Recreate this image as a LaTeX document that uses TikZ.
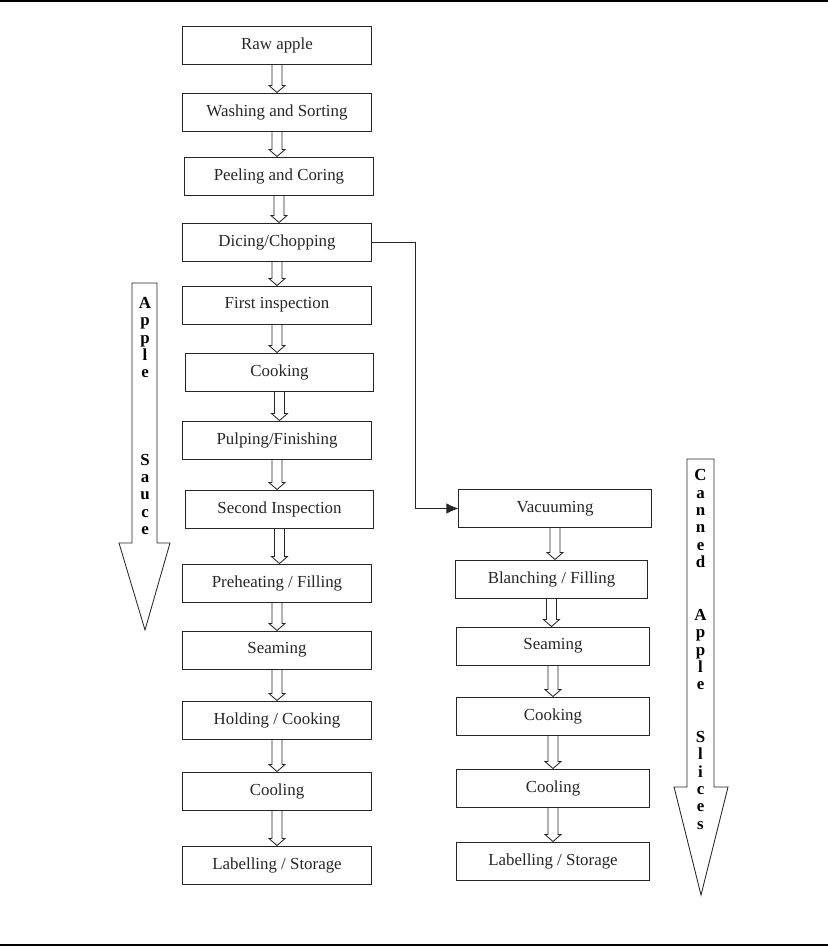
\documentclass[tikz,border=0pt]{standalone}
\usepackage{fontspec}
\setmainfont{Liberation Serif}
\usetikzlibrary{arrows.meta,calc}

% hollow block arrow from the bottom of one box to the top of the next
\newcommand{\hollowflow}[2]{%
  \coordinate (tip) at (#1.south |- #2.north);
  \draw[flowline] ($(#1.south)+(-5,0)$) -- ($(tip)+(-5,-7)$) -- ($(tip)+(-8,-7)$) -- (tip)
    -- ($(tip)+(8,-7)$) -- ($(tip)+(5,-7)$) -- ($(#1.south)+(5,0)$);}

\begin{document}
\begin{tikzpicture}[x=0.025cm,y=-0.025cm,>={Latex[length=3mm,width=2.6mm]},font=\fontsize{12}{14}\selectfont]
  \tikzset{procbox/.style={draw,black!85,line width=0.7pt,align=center,minimum width=4.7cm,minimum height=0.95cm},
    sidebox/.style={procbox,minimum width=4.8cm},
    flowline/.style={black!85,line width=0.6pt},
    bigarrow/.style={black!85,line width=0.6pt},
    sidelabel/.style={align=center,inner sep=0pt,font=\fontsize{12}{12.4}\selectfont\bfseries}}

  \useasboundingbox (0,0) rectangle (828,948);
  \draw[line width=1pt] (0,1) -- (828,1);
  \draw[line width=1pt] (0,945) -- (828,945);

  % apple sauce line
  \node[procbox] (raw)     at (277,45)    {Raw apple};
  \node[procbox] (wash)    at (277,112)   {Washing and Sorting};
  \node[procbox] (peel)    at (279,176)   {Peeling and Coring};
  \node[procbox] (dice)    at (277,242)   {Dicing/Chopping};
  \node[procbox] (inspa)   at (277,305)   {First inspection};
  \node[procbox] (cook)    at (279.5,372) {Cooking};
  \node[procbox] (pulp)    at (277,440)   {Pulping/Finishing};
  \node[procbox] (inspb)   at (279.5,509) {Second Inspection};
  \node[procbox] (preheat) at (277,583)   {Preheating / Filling};
  \node[procbox] (seam)    at (277,650)   {Seaming};
  \node[procbox] (hold)    at (277,720)   {Holding / Cooking};
  \node[procbox] (cool)    at (277,791)   {Cooling};
  \node[procbox] (label)   at (277,865)   {Labelling / Storage};

  % canned slices line
  \node[sidebox] (vac)    at (555,508.5) {Vacuuming};
  \node[sidebox] (blanch) at (551.5,579) {Blanching / Filling};
  \node[sidebox] (seamb)  at (553,646)   {Seaming};
  \node[sidebox] (cookb)  at (553,716)   {Cooking};
  \node[sidebox] (coolb)  at (553,788)   {Cooling};
  \node[sidebox] (labelb) at (553,861)   {Labelling / Storage};

  \foreach \a/\b in {raw/wash,wash/peel,peel/dice,dice/inspa,inspa/cook,cook/pulp,pulp/inspb,
    inspb/preheat,preheat/seam,seam/hold,hold/cool,cool/label,
    vac/blanch,blanch/seamb,seamb/cookb,cookb/coolb,coolb/labelb}
    {\hollowflow{\a}{\b}}

  \draw[->,flowline] (dice.east) -- ++(44,0) |- (vac.west);

  % side arrows
  \draw[bigarrow] (132,283) -- (157,283) -- (157,543) -- (170,543) -- (145,630) -- (119,543) -- (132,543) -- cycle;
  \draw[bigarrow] (687,459) -- (714,459) -- (714,787) -- (728,787) -- (701,895) -- (674,787) -- (687,787) -- cycle;
  \node[sidelabel] (sauce) at (145,416) {A\\p\\p\\l\\e\\~\\~\\~\\~\\S\\a\\u\\c\\e};
  \node[sidelabel] (slices) at (700.5,649.5) {C\\a\\n\\n\\e\\d\\~\\~\\A\\p\\p\\l\\e\\~\\~\\S\\l\\i\\c\\e\\s};
\end{tikzpicture}
\end{document}
